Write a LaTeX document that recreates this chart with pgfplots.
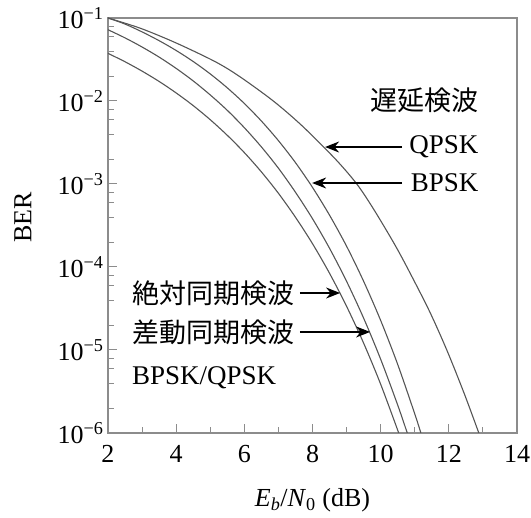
\documentclass[border=0pt]{standalone}
\usepackage{pgfplots}
\pgfplotsset{compat=1.18}
\usepackage{fontspec}
\setmainfont{Liberation Serif}
\newfontfamily\cjk{Noto Sans CJK JP}
\usetikzlibrary{arrows.meta}
\definecolor{curve}{RGB}{85,85,85}
\definecolor{frame}{RGB}{140,140,140}
\begin{document}
\begin{tikzpicture}
\path[use as bounding box] (0pt,0pt) rectangle (531pt,518pt);
\begin{axis}[
  at={(108pt,85pt)}, anchor=south west,
  width=409pt, height=415pt, scale only axis,
  xmin=2, xmax=14, ymode=log, ymin=1e-6, ymax=1e-1,
  xtick={2,4,...,14}, minor xtick={3,5,...,13},
  ytick={1e-6,1e-5,1e-4,1e-3,1e-2,1e-1},
  yticklabels={10\textsuperscript{\textminus6},10\textsuperscript{\textminus5},10\textsuperscript{\textminus4},10\textsuperscript{\textminus3},10\textsuperscript{\textminus2},10\textsuperscript{\textminus1}},
  minor ytick={2e-6,4e-6,6e-6,8e-6,2e-5,4e-5,6e-5,8e-5,2e-4,4e-4,6e-4,8e-4,2e-3,4e-3,6e-3,8e-3,2e-2,4e-2,6e-2,8e-2},
  xtick pos=bottom, ytick pos=left, tick align=inside,
  major tick length=9pt, minor tick length=6pt,
  tick style={frame, line width=1pt},
  axis line style={frame, line width=1.8pt},
  /pgf/number format/assume math mode=true,
  every tick label/.append style={font=\fontsize{26}{30}\selectfont},
  xticklabel style={yshift=-9pt},
  yticklabel style={xshift=-1pt},
  label style={font=\fontsize{26}{30}\selectfont},
  xlabel={\textit{E}\textsubscript{\textit{b}}/\textit{N}\textsubscript{0} (dB)},
  ylabel={BER},
  xlabel style={at={(axis description cs:0.5,-0.163)}, anchor=center},
  ylabel style={at={(axis description cs:-0.208,0.52)}, anchor=center},
]
% coherent BPSK/QPSK
\addplot[curve, line width=1.1pt, smooth] coordinates {
(2,0.0375)(2.5,0.0297)(3,0.0229)(3.5,0.0172)(4,0.0125)(4.5,0.0088)(5,0.00595)(5.5,0.00386)(6,0.00239)(6.5,0.0014)(7,7.73e-4)(7.5,3.98e-4)(8,1.91e-4)(8.5,8.4e-5)(9,3.36e-5)(9.5,1.21e-5)(10,3.87e-6)(10.53,1e-6)};
% differentially encoded coherent
\addplot[curve, line width=1.1pt, smooth] coordinates {
(2,0.0722)(2.5,0.0576)(3,0.0447)(3.5,0.0338)(4,0.0247)(4.5,0.01745)(5,0.01183)(5.5,0.00772)(6,0.00477)(6.5,0.0028)(7,0.00155)(7.5,7.96e-4)(8,3.82e-4)(8.5,1.68e-4)(9,6.72e-5)(9.5,2.42e-5)(10,7.74e-6)(10.5,2.17e-6)(10.78,1e-6)};
% DBPSK
\addplot[curve, line width=1.1pt, smooth] coordinates {
(2,0.1)(2.5,0.0845)(3,0.068)(3.5,0.0533)(4,0.0406)(4.5,0.0299)(5,0.0212)(5.5,0.0144)(6,0.00934)(6.5,0.00574)(7,0.00333)(7.5,0.00181)(8,9.1e-4)(8.5,4.21e-4)(9,1.78e-4)(9.5,6.73e-5)(10,2.27e-5)(10.5,6.7e-6)(11,1.7e-6)(11.18,1e-6)};
% DQPSK
\addplot[curve, line width=1.1pt, smooth] coordinates {
(2,0.1)(2.96,0.075)(4.0,0.05)(5.13,0.03)(5.84,0.02)(6.85,0.01)(7.7,5e-3)(8.67,2e-3)(9.3,1e-3)(9.79,5e-4)(10.37,2e-4)(10.77,1e-4)(11.42,3e-5)(11.94,1e-5)(12.45,3e-6)(12.88,1e-6)};
\node[anchor=east, font=\cjk\fontsize{27}{32}\selectfont] at (axis cs:12.97,1.03e-2) {遅延検波};
\node[anchor=east, font=\fontsize{27}{32}\selectfont] at (axis cs:12.97,2.79e-3) {QPSK};
\node[anchor=east, font=\fontsize{27}{32}\selectfont] at (axis cs:12.97,1.028e-3) {BPSK};
\draw[-{Stealth[length=14pt,width=11pt]}, line width=1.2pt] (axis cs:10.63,2.79e-3) -- (axis cs:8.37,2.79e-3);
\draw[-{Stealth[length=14pt,width=11pt]}, line width=1.2pt] (axis cs:10.63,1.028e-3) -- (axis cs:7.99,1.028e-3);
\node[anchor=west, inner sep=0pt, font=\cjk\fontsize{27}{32}\selectfont] at (axis cs:2.70,4.86e-5) {絶対同期検波};
\node[anchor=west, inner sep=0pt, font=\cjk\fontsize{27}{32}\selectfont] at (axis cs:2.70,1.65e-5) {差動同期検波};
\node[anchor=west, inner sep=0pt, font=\fontsize{27}{32}\selectfont] at (axis cs:2.70,4.6e-6) {BPSK/QPSK};
\draw[-{Stealth[length=14pt,width=11pt]}, line width=1.2pt] (axis cs:7.63,4.86e-5) -- (axis cs:8.81,4.86e-5);
\draw[-{Stealth[length=14pt,width=11pt]}, line width=1.2pt] (axis cs:7.63,1.65e-5) -- (axis cs:9.69,1.65e-5);
\end{axis}
\end{tikzpicture}
\end{document}
